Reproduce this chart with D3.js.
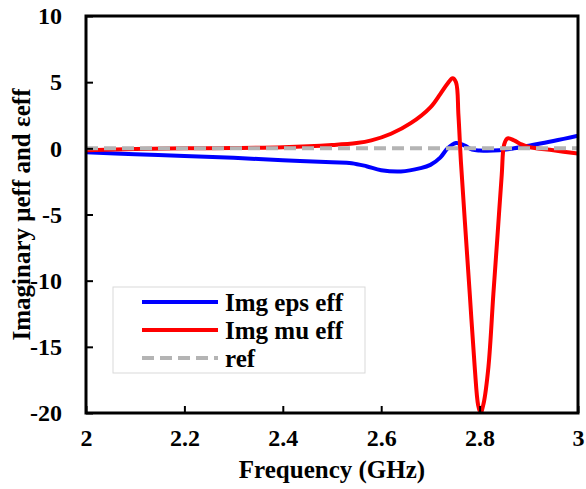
<!DOCTYPE html>
<html>
<head>
<meta charset="utf-8">
<script src="https://cdn.jsdelivr.net/npm/d3@7"></script>
<style>
  body { margin: 0; background: #fff; }
  text { font-family: "Liberation Serif", "Times New Roman", serif; font-weight: bold; }
</style>
</head>
<body>
<svg id="chart" width="586" height="489"></svg>
<script>
// Frequency (GHz) and imaginary parts
var epsFreq = [2.00, 2.10, 2.20, 2.30, 2.40, 2.50, 2.54, 2.57, 2.60, 2.64, 2.68, 2.70, 2.72, 2.735, 2.752, 2.77, 2.785, 2.80, 2.84, 2.87, 2.90, 2.95, 3.00];
var epsImg  = [-0.30, -0.45, -0.58, -0.72, -0.90, -1.05, -1.12, -1.35, -1.65, -1.75, -1.50, -1.25, -0.70, 0.00, 0.40, 0.20, -0.10, -0.17, -0.15, 0.00, 0.20, 0.55, 0.95];

var muFreq = [2.00, 2.10, 2.20, 2.30, 2.40, 2.50, 2.55, 2.58, 2.62, 2.66, 2.70, 2.72, 2.735, 2.745, 2.752, 2.757, 2.762, 2.770, 2.780, 2.790, 2.797, 2.802, 2.808, 2.818, 2.828, 2.836, 2.845, 2.850, 2.857, 2.870, 2.885, 2.900, 2.950, 3.00];
var muImg  = [-0.15, -0.05, 0.00, 0.02, 0.08, 0.25, 0.40, 0.60, 1.10, 1.90, 3.10, 4.10, 4.90, 5.30, 5.00, 2.50, -1.00, -5.50, -11.0, -16.5, -19.4, -20.0, -19.3, -16.5, -11.0, -6.8, -2.0, 0.30, 0.75, 0.60, 0.30, 0.10, -0.15, -0.40];

var refFreq = [2.0, 3.0];
var refVal = [0, 0];

var xTicks = [2, 2.2, 2.4, 2.6, 2.8, 3];
var yTicks = [10, 5, 0, -5, -10, -15, -20];
var seriesNames = ["Img eps eff", "Img mu eff", "ref"];
var seriesColors = ["#0000ff", "#ff0000", "#b4b4b4"];

var svg = d3.select("#chart");
var plotLeft = 86, plotRight = 578, plotTop = 16, plotBottom = 413;

var x = d3.scaleLinear().domain([2, 3]).range([plotLeft, plotRight]);
var y = d3.scaleLinear().domain([-20, 10]).range([plotBottom, plotTop]);

// clip so the lines stay in the frame
svg.append("clipPath").attr("id", "clip")
  .append("rect").attr("x", plotLeft).attr("y", plotTop)
  .attr("width", plotRight - plotLeft).attr("height", plotBottom - plotTop);

var line = d3.line()
  .x(function(d) { return x(d[0]); })
  .y(function(d) { return y(d[1]); })
  .curve(d3.curveCatmullRom.alpha(0.5));

function pairs(a, b) { return a.map(function(v, i) { return [v, b[i]]; }); }

var g = svg.append("g").attr("clip-path", "url(#clip)");

g.append("path").datum(pairs(epsFreq, epsImg))
  .attr("d", line).attr("fill", "none").attr("stroke", seriesColors[0]).attr("stroke-width", 4);

g.append("path").datum(pairs(muFreq, muImg))
  .attr("d", line).attr("fill", "none").attr("stroke", seriesColors[1]).attr("stroke-width", 4);

g.append("path").datum(pairs(refFreq, refVal))
  .attr("d", line).attr("fill", "none").attr("stroke", seriesColors[2]).attr("stroke-width", 4)
  .attr("stroke-dasharray", "12,6");

// axes with inward ticks, plain hyphen for negatives like the original
var plain = function(d) { return String(d); };
var xAxis = svg.append("g").attr("transform", "translate(0," + plotBottom + ")")
  .call(d3.axisBottom(x).tickValues(xTicks).tickSize(-7).tickPadding(16).tickFormat(plain));
var yAxis = svg.append("g").attr("transform", "translate(" + plotLeft + ",0)")
  .call(d3.axisLeft(y).tickValues(yTicks).tickSize(-7).tickPadding(24).tickFormat(plain));

[xAxis, yAxis].forEach(function(ax) {
  ax.select(".domain").remove();
  ax.selectAll(".tick line").attr("stroke", "#000").attr("stroke-width", 2);
  ax.selectAll(".tick text").attr("font-size", 24).attr("fill", "#000")
    .style("font-family", "'Liberation Serif', serif").style("font-weight", "bold");
});

// frame
svg.append("rect").attr("x", plotLeft).attr("y", plotTop)
  .attr("width", plotRight - plotLeft).attr("height", plotBottom - plotTop)
  .attr("fill", "none").attr("stroke", "#000").attr("stroke-width", 3);

// axis titles
svg.append("text").attr("x", (plotLeft + plotRight) / 2).attr("y", 478).attr("text-anchor", "middle")
  .attr("font-size", 25).text("Frequency (GHz)");
svg.append("text").attr("transform", "translate(30," + ((plotTop + plotBottom) / 2) + ") rotate(-90)")
  .attr("text-anchor", "middle").attr("font-size", 25).text("Imaginary μeff and εeff");

// legend
var legend = svg.append("g");
legend.append("rect").attr("x", 113).attr("y", 287).attr("width", 252).attr("height", 86)
  .attr("fill", "#fff").attr("stroke", "#d9d9d9").attr("stroke-width", 1);
seriesNames.forEach(function(name, i) {
  var ly = 302 + i * 28;
  legend.append("line").attr("x1", 142).attr("x2", 218).attr("y1", ly).attr("y2", ly)
    .attr("stroke", seriesColors[i]).attr("stroke-width", 4)
    .attr("stroke-dasharray", i == 2 ? "12,6" : null);
  legend.append("text").attr("x", 225).attr("y", ly + 9).attr("font-size", 25).text(name);
});
</script>
</body>
</html>
